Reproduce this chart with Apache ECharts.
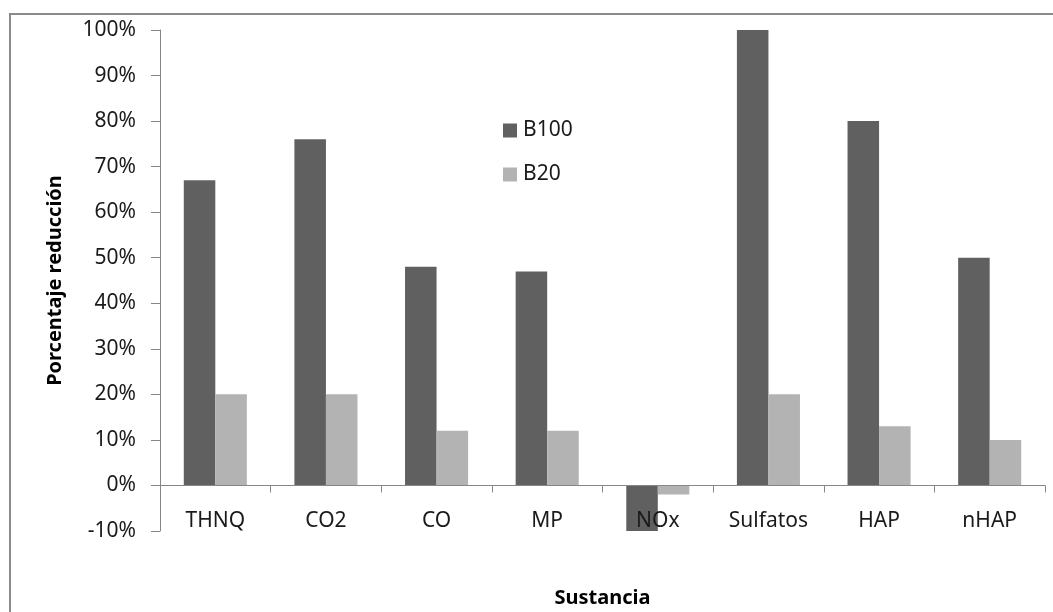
<!DOCTYPE html>
<html>
<head>
<meta charset="utf-8">
<script src="https://cdn.jsdelivr.net/npm/echarts@6/dist/echarts.min.js"></script>
<style>
html,body{margin:0;padding:0;background:#fff;}
#chart{width:1053px;height:612px;}
</style>
</head>
<body>
<div id="chart"></div>
<script>
const categories = ['THNQ', 'CO2', 'CO', 'MP', 'NOx', 'Sulfatos', 'HAP', 'nHAP'];
const b100 = [67, 76, 48, 47, -10, 100, 80, 50];
const b20 = [20, 20, 12, 12, -2, 20, 13, 10];
const seriesNames = ['B100', 'B20'];
const yMin = -10, yMax = 100, yStep = 10;

const FONT = '"Noto Sans", "Open Sans", sans-serif';
const chart = echarts.init(document.getElementById('chart'), null, {renderer: 'canvas'});
chart.setOption({
  animation: false,
  backgroundColor: '#ffffff',
  textStyle: {fontFamily: FONT},
  graphic: [{
    type: 'rect',
    shape: {x: 10, y: 14, width: 1100, height: 700},
    style: {fill: 'none', stroke: '#8a8a8a', lineWidth: 2},
    silent: true, z: -10
  }],
  grid: {left: 160, right: 8, top: 30, bottom: 81, containLabel: false, outerBoundsMode: 'none'},
  legend: {
    orient: 'vertical', left: 503, top: 120, padding: 0,
    itemWidth: 14, itemHeight: 14, itemGap: 23,
    icon: 'rect',
    textStyle: {fontSize: 21, color: '#1a1a1a', fontFamily: FONT, padding: [0, 0, 0, 1]},
    data: seriesNames
  },
  xAxis: {
    type: 'category',
    data: categories,
    z: 5,
    name: 'Sustancia',
    nameLocation: 'middle',
    nameGap: 57,
    nameTextStyle: {fontSize: 20, fontWeight: 'bold', color: '#000', fontFamily: FONT},
    axisLine: {onZero: true, lineStyle: {color: '#868686', width: 1}},
    axisTick: {show: true, length: 7, lineStyle: {color: '#868686'}},
    axisLabel: {fontSize: 21, color: '#1a1a1a', margin: -20, interval: 0, fontFamily: FONT},
    splitLine: {show: false}
  },
  yAxis: {
    type: 'value',
    min: yMin, max: yMax, interval: yStep,
    name: 'Porcentaje reducción',
    nameLocation: 'middle',
    nameGap: 95,
    nameRotate: 90,
    nameTextStyle: {fontSize: 20, fontWeight: 'bold', color: '#000', fontFamily: FONT},
    axisLine: {show: true, lineStyle: {color: '#868686', width: 1}},
    axisTick: {show: true, length: 9, lineStyle: {color: '#868686'}},
    axisLabel: {fontSize: 21, color: '#1a1a1a', margin: 24, formatter: v => v + '%', fontFamily: FONT},
    splitLine: {show: false}
  },
  series: [
    {name: seriesNames[0], type: 'bar', data: b100, barGap: '0%', barCategoryGap: '43%',
     itemStyle: {color: '#606060'}},
    {name: seriesNames[1], type: 'bar', data: b20, barGap: '0%', barCategoryGap: '43%',
     itemStyle: {color: '#b3b3b3'}}
  ]
});
</script>
</body>
</html>
